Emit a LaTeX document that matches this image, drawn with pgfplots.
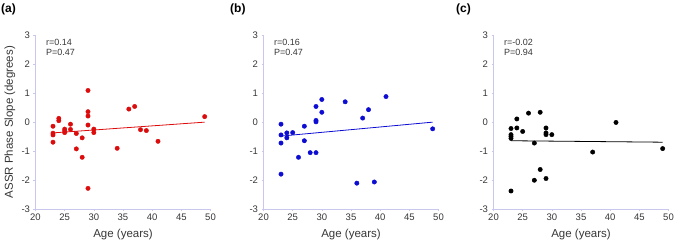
\documentclass[border=0pt]{standalone}
\usepackage{pgfplots}
\pgfplotsset{compat=1.18}
\usepackage{fontspec}
\setmainfont{Liberation Sans}
\definecolor{axc}{RGB}{200,200,238}
\definecolor{tickc}{RGB}{55,55,55}
\definecolor{dred}{RGB}{220,12,12}
\definecolor{dblue}{RGB}{12,12,210}
\pgfplotsset{panel/.style={
  scale only axis, width=175pt, height=174.3pt,
  xmin=20, xmax=50, ymin=-3, ymax=3,
  axis x line*=bottom, axis y line*=left,
  axis line style={draw=axc, line width=0.6pt},
  xtick={20,25,...,50}, ytick={-3,-2,...,3},
  tick style={draw=axc, line width=0.6pt}, tick align=outside, major tick length=2pt,
  ticklabel style={font=\fontsize{9.5}{10}\selectfont, text=tickc},
  xticklabel style={yshift=1pt},
  /pgf/number format/assume math mode=true,
  xlabel={Age (years)},
  xlabel style={at={(axis description cs:0.5,-0.1446)}, anchor=center, font=\fontsize{11.5}{13}\selectfont, text=tickc},
  anchor=south west, clip=false}}
\begin{document}
\begin{tikzpicture}[x=1pt,y=1pt]
\useasboundingbox (0,0) rectangle (676,243);
% ---------------- (a)
\begin{axis}[panel, at={(35.5pt,33.7pt)},
  ylabel={ASSR Phase Slope (degrees)},
  ylabel style={at={(axis description cs:-0.1457,0.5)}, anchor=center, font=\fontsize{11.5}{13}\selectfont, text=tickc}]
\addplot[only marks, mark=*, mark size=2.2pt, dred, mark options={draw=dred, fill=dred}] coordinates {
(23,-0.14) (23,-0.38) (23,-0.44) (23,-0.69)
(24,0.13) (24,0.05)
(25,-0.24) (25,-0.30) (25,-0.36)
(26,-0.07) (26,-0.25)
(27,-0.39) (27,-0.92)
(28,-0.54) (28,-1.21)
(29,1.09) (29,0.36) (29,0.21) (29,-0.10) (29,-2.28)
(30,-0.24) (30,-0.36)
(34,-0.90) (36,0.45) (37,0.54) (38,-0.26) (39,-0.29) (41,-0.66) (49,0.19)
};
\addplot[dred, line width=0.8pt] coordinates {(23,-0.37) (49,0.0)};
\node[anchor=north west, align=left, inner sep=0pt, font=\fontsize{9}{10}\selectfont, text=tickc] at (rel axis cs:0.06,0.975) {r=0.14\\P=0.47};
\end{axis}
% ---------------- (b)
\begin{axis}[panel, at={(263.5pt,33.7pt)}]
\addplot[only marks, mark=*, mark size=2.2pt, dblue, mark options={draw=dblue, fill=dblue}] coordinates {
(23,-0.07) (23,-0.44) (23,-0.72) (23,-1.79)
(24,-0.37) (24,-0.54)
(25,-0.36)
(26,-1.21)
(27,-0.14) (27,-0.64)
(28,-1.05)
(29,0.54) (29,0.06) (29,0.01) (29,-1.05)
(30,0.78) (30,0.34)
(34,0.70) (36,-2.10) (37,0.14) (38,0.43) (39,-2.06) (41,0.88) (49,-0.23)
};
\addplot[dblue, line width=0.8pt] coordinates {(23,-0.48) (49,0.0)};
\node[anchor=north west, align=left, inner sep=0pt, font=\fontsize{9}{10}\selectfont, text=tickc] at (rel axis cs:0.06,0.975) {r=0.16\\P=0.47};
\end{axis}
% ---------------- (c)
\begin{axis}[panel, at={(493.5pt,33.7pt)}]
\addplot[only marks, mark=*, mark size=2.2pt, black, mark options={draw=black, fill=black}] coordinates {
(23,-0.22) (23,-0.43) (23,-0.49) (23,-0.56) (23,-2.37)
(24,0.11) (24,-0.20)
(25,-0.32)
(26,0.31)
(27,-0.72) (27,-2.00)
(28,0.34) (28,-1.63)
(29,-0.20) (29,-0.37) (29,-0.43) (29,-1.94)
(30,-0.43)
(37,-1.03) (41,-0.01) (49,-0.91)
};
\addplot[black, line width=0.8pt] coordinates {(23,-0.64) (49,-0.69)};
\node[anchor=north west, align=left, inner sep=0pt, font=\fontsize{9}{10}\selectfont, text=tickc] at (rel axis cs:0.06,0.975) {r=-0.02\\P=0.94};
\end{axis}
% panel letters
\node[anchor=west, inner sep=0pt, font=\bfseries\fontsize{12}{14}\selectfont] at (1,233.5) {(a)};
\node[anchor=west, inner sep=0pt, font=\bfseries\fontsize{12}{14}\selectfont] at (230,233.5) {(b)};
\node[anchor=west, inner sep=0pt, font=\bfseries\fontsize{12}{14}\selectfont] at (456,233.5) {(c)};
\end{tikzpicture}
\end{document}
